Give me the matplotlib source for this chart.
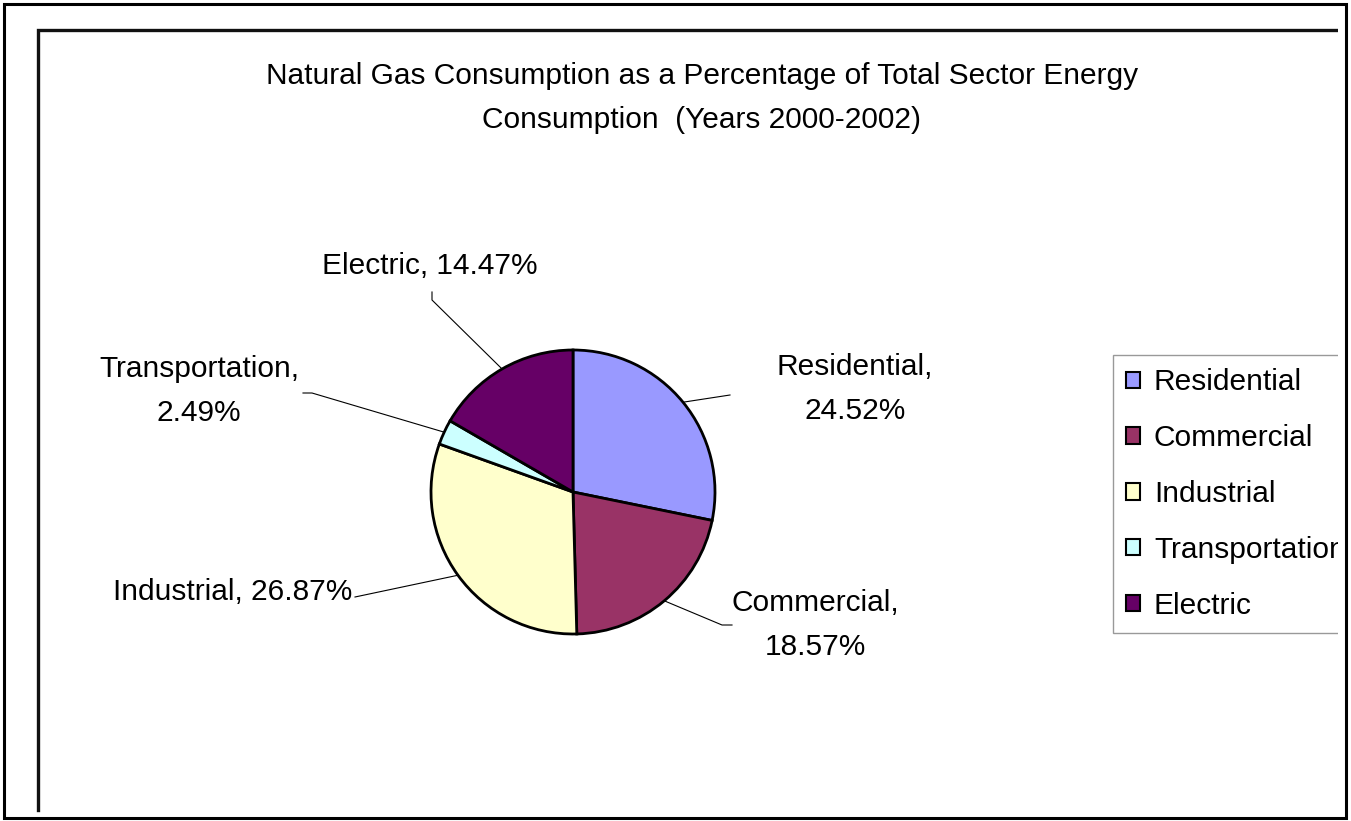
import numpy as np
import matplotlib
matplotlib.use("Agg")
import matplotlib.pyplot as plt
import matplotlib.patches as mpatches

plt.rcParams['font.family'] = ['Liberation Sans', 'DejaVu Sans']

sectors = ['Residential', 'Commercial', 'Industrial', 'Transportation', 'Electric']
shares = [24.52, 18.57, 26.87, 2.49, 14.47]
colors = ['#9999FF', '#993366', '#FFFFCC', '#CCFFFF', '#660066']
title = "Natural Gas Consumption as a Percentage of Total Sector Energy\nConsumption  (Years 2000-2002)"

W, H = 1351, 821
FS = 21.5
fig = plt.figure(figsize=(W / 100, H / 100), dpi=100)
ax = fig.add_axes([0, 0, 1, 1])

# pie in pixel coords (y axis inverted -> counterclock=True walks clockwise on screen)
cx, cy, r = 573, 492, 142
wedges, _ = ax.pie(shares, colors=colors, center=(cx, cy), radius=r,
                   startangle=-90, counterclock=True, frame=True,
                   wedgeprops=dict(edgecolor='black', linewidth=2.0))
ax.set_xlim(0, W)
ax.set_ylim(H, 0)
ax.set_aspect('equal')
ax.axis('off')

# label text position and elbow of the leader line (screen pixels)
label_pos = [(855, 389), (815, 625), (233, 592), (199, 391), (430, 266)]
elbow = [[(730, 395)], [(722, 625), (732, 625)], [(355, 597)],
         [(312, 393), (303, 393)], [(432, 300), (432, 292)]]
label_text = ['Residential,\n%.2f%%', 'Commercial,\n%.2f%%', 'Industrial, %.2f%%',
              'Transportation,\n%.2f%%', 'Electric, %.2f%%']

for w, pos, el, txt, val in zip(wedges, label_pos, elbow, label_text, shares):
    mid = np.deg2rad((w.theta1 + w.theta2) / 2)
    px = cx + r * np.cos(mid)
    py = cy + r * np.sin(mid)
    xs = [px] + [p[0] for p in el]
    ys = [py] + [p[1] for p in el]
    ax.plot(xs, ys, color='black', linewidth=0.8)
    ax.text(pos[0], pos[1], txt % val, ha='center', va='center', fontsize=FS,
            linespacing=1.75)

ax.text(702, 98, title, ha='center', va='center', fontsize=FS, linespacing=1.72)

# chart area frame (only top and left visible)
ax.plot([38, 38, 1337], [810, 30, 30], color='#111111', linewidth=2.4,
        solid_joinstyle='miter')

handles = [mpatches.Patch(facecolor=c, edgecolor='black', linewidth=1.5) for c in colors]
leg = ax.legend(handles, sectors, loc='upper left',
                bbox_to_anchor=(1113 / W, 1 - 355 / H), bbox_transform=fig.transFigure,
                borderaxespad=0, fontsize=FS, frameon=True, fancybox=False,
                edgecolor='#808080', handlelength=0.47, handleheight=0.47,
                handletextpad=0.45, labelspacing=0.93, borderpad=0.45)
leg.get_frame().set_linewidth(1.0)

# clip everything right of the chart area
fig.patches.append(mpatches.Rectangle((1338 / W, 0), (W - 1338) / W, 1,
                                      transform=fig.transFigure, facecolor='white',
                                      edgecolor='none', zorder=20))
fig.patches.append(mpatches.Rectangle((4 / W, 3 / H), 1342 / W, 814 / H,
                                      transform=fig.transFigure, facecolor='none',
                                      edgecolor='black', linewidth=2.2, zorder=21))

fig.savefig('out.png', dpi=100)
